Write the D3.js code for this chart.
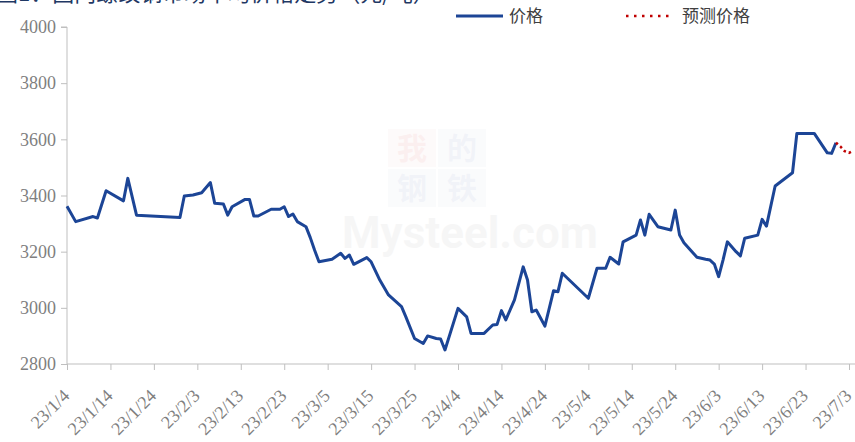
<!DOCTYPE html>
<html lang="zh">
<head>
  <meta charset="UTF-8">
  <title>价格走势</title>
  <style>
    html, body {
      margin: 0;
      padding: 0;
      background-color: #fff;
    }
  </style>
</head>
<body>
  <script src="https://d3js.org/d3.v7.min.js"></script>
  <script>
    const width = 855,
          height = 442,
          margin = {top: 27, right: 6, bottom: 78, left: 67}

    // price (blue), trading dates
    const priceDates = [
      '2023-01-04', '2023-01-06', '2023-01-10', '2023-01-11', '2023-01-13', '2023-01-17', '2023-01-18',
      '2023-01-20', '2023-01-30', '2023-01-31', '2023-02-02', '2023-02-04', '2023-02-06', '2023-02-07',
      '2023-02-09', '2023-02-10', '2023-02-11', '2023-02-14', '2023-02-15', '2023-02-16', '2023-02-17',
      '2023-02-20', '2023-02-22', '2023-02-23', '2023-02-24', '2023-02-25', '2023-02-26', '2023-02-28',
      '2023-03-01', '2023-03-02', '2023-03-03', '2023-03-06', '2023-03-08', '2023-03-09', '2023-03-10',
      '2023-03-11', '2023-03-14', '2023-03-15', '2023-03-17', '2023-03-19', '2023-03-22', '2023-03-23',
      '2023-03-25', '2023-03-27', '2023-03-28', '2023-03-30', '2023-03-31', '2023-04-01', '2023-04-04',
      '2023-04-06', '2023-04-07', '2023-04-10', '2023-04-12', '2023-04-13', '2023-04-14', '2023-04-15',
      '2023-04-17', '2023-04-19', '2023-04-20', '2023-04-21', '2023-04-22', '2023-04-24', '2023-04-26',
      '2023-04-27', '2023-04-28', '2023-05-04', '2023-05-06', '2023-05-08', '2023-05-09', '2023-05-11',
      '2023-05-12', '2023-05-15', '2023-05-16', '2023-05-17', '2023-05-18', '2023-05-20', '2023-05-23',
      '2023-05-24', '2023-05-25', '2023-05-26', '2023-05-29', '2023-05-31', '2023-06-01', '2023-06-02',
      '2023-06-03', '2023-06-04', '2023-06-05', '2023-06-07', '2023-06-08', '2023-06-09', '2023-06-12',
      '2023-06-13', '2023-06-14', '2023-06-16', '2023-06-20', '2023-06-21', '2023-06-25', '2023-06-28',
      '2023-06-29', '2023-06-30'
    ]
    const priceValues = [
      3362, 3307, 3325, 3320, 3417, 3381, 3461,
      3330, 3322, 3398, 3402, 3410, 3446, 3372,
      3370, 3330, 3360, 3386, 3386, 3327, 3327,
      3351, 3351, 3360, 3325, 3334, 3307, 3289,
      3250, 3205, 3164, 3173, 3194, 3176, 3188,
      3155, 3179, 3164, 3099, 3046, 3004, 2968,
      2891, 2873, 2900, 2891, 2889, 2850, 2998,
      2968, 2909, 2909, 2939, 2941, 2990, 2957,
      3028, 3146, 3099, 2986, 2992, 2935, 3061,
      3057, 3123, 3034, 3141, 3141, 3180, 3156,
      3235, 3259, 3313, 3259, 3333, 3289, 3277,
      3348, 3259, 3232, 3180, 3173, 3170, 3156,
      3111, 3170, 3235, 3200, 3185, 3248, 3259,
      3315, 3291, 3434, 3481, 3621, 3621, 3552,
      3550, 3588
    ]

    // forecast (red dotted)
    const forecastDates = ['2023-06-30', '2023-07-01', '2023-07-02', '2023-07-03', '2023-07-04']
    const forecastValues = [3588, 3575, 3558, 3552, 3560]

    const yTicks = [2800, 3000, 3200, 3400, 3600, 3800, 4000]
    const xTickStart = '2023-01-04', xTickEnd = '2023-07-03', xTickStepDays = 10

    const legendNames = ['价格', '预测价格']
    const titleText = '图1：国内螺纹钢市场平均价格走势（元/吨）'

    const serif = '"Liberation Serif", "DejaVu Serif", serif'
    const cjk = '"Noto Sans CJK SC", sans-serif'

    const parse = d3.timeParse('%Y-%m-%d')
    const fmt = d => `${d.getFullYear() % 100}/${d.getMonth() + 1}/${d.getDate()}`

    const price = priceDates.map((d, i) => ({date: parse(d), value: priceValues[i]}))
    const forecast = forecastDates.map((d, i) => ({date: parse(d), value: forecastValues[i]}))

    const x = d3.scaleTime()
      .domain([parse(xTickStart), parse(xTickEnd)])
      .range([margin.left, width - margin.right])

    const y = d3.scaleLinear()
      .domain([2800, 4000])
      .range([height - margin.bottom, margin.top])

    const svg = d3.select('body')
      .append('svg')
      .attr('width', width)
      .attr('height', height)

    // title, cut off by the top edge (only its lower part shows)
    svg.append('text')
      .attr('x', -4)
      .attr('y', 1)
      .attr('fill', '#1f3864')
      .style('font-family', cjk)
      .style('font-size', '22px')
      .text(titleText)

    // watermark
    const wm = svg.append('g').attr('opacity', 0.06)
    const wmChars = [['我', '#c00000'], ['的', '#1f3f8f'], ['钢', '#1f3f8f'], ['铁', '#1f3f8f']]
    wmChars.forEach(([c, col], i) => {
      const cx = 388 + (i % 2) * 50, cy = 129 + Math.floor(i / 2) * 40
      wm.append('rect').attr('x', cx).attr('y', cy).attr('width', 48).attr('height', 38).attr('fill', col).attr('opacity', 0.3)
      wm.append('text')
        .attr('x', cx + 24).attr('y', cy + 30)
        .attr('text-anchor', 'middle')
        .attr('fill', col)
        .style('font-family', cjk)
        .style('font-weight', 'bold')
        .style('font-size', '30px')
        .text(c)
    })
    wm.append('text')
      .attr('x', 470).attr('y', 248)
      .attr('text-anchor', 'middle')
      .attr('fill', '#777')
      .style('font-family', 'Roboto, sans-serif')
      .style('font-weight', 'bold')
      .style('font-size', '44px')
      .text('Mysteel.com')

    // y axis
    const yAxis = svg.append('g')
      .attr('transform', `translate(${margin.left},0)`)
      .call(d3.axisLeft(y).tickValues(yTicks).tickSize(6).tickPadding(5).tickFormat(d3.format('d')))
    yAxis.select('.domain').attr('stroke', '#bfbfbf').attr('d', `M-6,${y(4000)}H0V${y(2800)}`)
    yAxis.selectAll('.tick line').attr('stroke', '#bfbfbf')
    yAxis.selectAll('.tick text')
      .attr('fill', '#7f7f7f')
      .style('font-family', serif)
      .style('font-size', '18px')

    // x axis
    const xTicks = d3.timeDay.every(1).range(parse(xTickStart), d3.timeDay.offset(parse(xTickEnd), 1))
      .filter((d, i) => i % xTickStepDays === 0)
    const baseY = height - margin.bottom
    const xAxis = svg.append('g')
      .attr('transform', `translate(0,${baseY})`)
      .call(d3.axisBottom(x).tickValues(xTicks).tickSize(6).tickFormat(fmt))
    xAxis.select('.domain').attr('stroke', '#bfbfbf').attr('d', `M${margin.left},0H${width}`)
    xAxis.selectAll('.tick line').attr('stroke', '#bfbfbf')
    xAxis.selectAll('.tick text')
      .attr('fill', '#7f7f7f')
      .style('font-family', serif)
      .style('font-size', '18px')
      .attr('text-anchor', 'end')
      .attr('dy', null)
      .attr('y', 0)
      .attr('transform', 'translate(3,33) rotate(-45)')

    const line = d3.line()
      .x(d => x(d.date))
      .y(d => y(d.value))

    svg.append('path')
      .datum(price)
      .attr('fill', 'none')
      .attr('stroke', '#1c4596')
      .attr('stroke-width', 3)
      .attr('stroke-linejoin', 'round')
      .attr('d', line)

    svg.append('path')
      .datum(forecast)
      .attr('fill', 'none')
      .attr('stroke', '#c00000')
      .attr('stroke-width', 2.5)
      .attr('stroke-dasharray', '2.5,3')
      .attr('d', line)

    // legend
    const legend = svg.append('g')
      .style('font-family', cjk)
      .style('font-size', '17px')
      .attr('fill', '#404040')
    legend.append('line')
      .attr('x1', 456).attr('x2', 503).attr('y1', 16).attr('y2', 16)
      .attr('stroke', '#1c4596').attr('stroke-width', 3)
    legend.append('text').attr('x', 509).attr('y', 22).text(legendNames[0])
    legend.append('line')
      .attr('x1', 626).attr('x2', 670).attr('y1', 16).attr('y2', 16)
      .attr('stroke', '#c00000').attr('stroke-width', 2.5).attr('stroke-dasharray', '2.5,5.5')
    legend.append('text').attr('x', 682).attr('y', 22).text(legendNames[1])
  </script>
</body>
</html>
